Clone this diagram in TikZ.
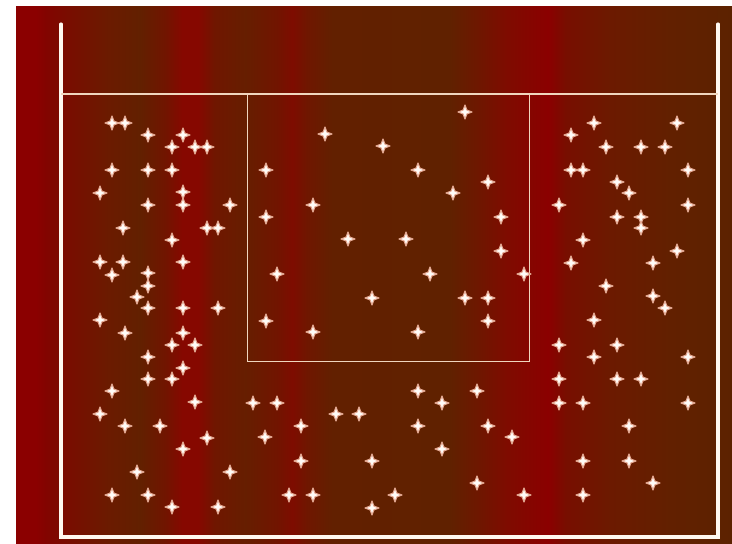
\documentclass[tikz,border=0pt]{standalone}
\definecolor{bA}{RGB}{139,0,0}
\definecolor{bB}{RGB}{130,4,0}
\definecolor{bC}{RGB}{120,14,0}
\definecolor{bD}{RGB}{108,26,0}
\definecolor{bE}{RGB}{98,32,0}
\definecolor{bF}{RGB}{114,20,0}
\definecolor{bG}{RGB}{134,8,0}
\definecolor{bH}{RGB}{112,22,0}
\definecolor{bI}{RGB}{102,30,0}
\definecolor{bJ}{RGB}{126,12,0}
\definecolor{bK}{RGB}{96,33,0}
\definecolor{bL}{RGB}{92,34,0}
\definecolor{framewhite}{RGB}{255,248,240}
\definecolor{linetan}{RGB}{240,214,190}
\definecolor{starfill}{RGB}{255,252,248}
\definecolor{starrim}{RGB}{228,168,146}
\tikzset{
  frameline/.style={draw=framewhite, line width=3.1pt, line cap=round, line join=miter},
  thinline/.style={draw=linetan, line width=1.3pt},
  sparkle/.pic={
    \filldraw[fill=starfill, draw=starrim, line width=1.1pt, line join=round]
      (-7,0) -- (-1.9,-1.9) -- (0,-7) -- (1.9,-1.9) -- (7,0) -- (1.9,1.9) -- (0,7) -- (-1.9,1.9) -- cycle;
  }
}
\begin{document}
\begin{tikzpicture}[x=1pt,y=-1pt]
\useasboundingbox (0,0) rectangle (732,544);
\fill[white] (0,0) rectangle (732,544);
% vertical colour bands of the background
\foreach \xa/\ca/\xb/\cb in {
  16/bA/36/bA, 36/bA/46/bB, 46/bB/70/bC, 70/bC/105/bD, 105/bD/140/bE,
  140/bE/166/bF, 166/bF/182/bG, 182/bG/198/bG, 198/bG/214/bH, 214/bH/245/bI,
  245/bI/278/bF, 278/bF/292/bJ, 292/bJ/306/bH, 306/bH/332/bE, 332/bE/450/bK,
  450/bK/485/bF, 485/bF/505/bJ, 505/bJ/548/bA, 548/bA/565/bC, 565/bC/610/bD,
  610/bD/670/bE, 670/bE/732/bL}
  \fill[left color=\ca, right color=\cb] (\xa,6) rectangle ({\xb+0.6},544);
% frame
\draw[frameline] (61,24) -- (61,537) -- (718,537) -- (718,24);
\draw[thinline] (61,94) -- (718,94);
\draw[thinline] (247.5,94) rectangle (529.5,361.5);
% sparkles
\foreach \a/\b in {
  112/123, 125/123, 148/135, 183/135, 172/147, 195/147, 207/147, 112/170, 148/170, 172/170,
  100/193, 183/192, 148/205, 183/205, 230/205, 123/228, 207/228, 218/228, 172/240, 100/262,
  123/262, 183/262, 112/275, 148/273, 148/286, 137/297, 148/308, 183/308, 218/308, 100/320,
  125/333, 183/333, 172/345, 195/345, 148/357, 183/368, 148/379, 172/379, 112/391, 195/402,
  100/414, 125/426, 160/426, 207/438, 183/449, 137/472, 230/472, 112/495, 148/495, 172/507,
  218/507,
  253/403, 277/403, 418/391, 477/391, 442/403, 336/414, 359/414, 301/426, 418/426, 488/426,
  265/437, 512/437, 442/449, 301/461, 372/461, 477/483, 289/495, 313/495, 395/495, 524/495,
  372/508,
  465/112, 325/134, 383/146, 266/170, 418/170, 488/182, 453/193, 313/205, 266/217, 501/217,
  348/239, 406/239, 501/251, 277/274, 430/274, 524/274, 372/298, 465/298, 488/298, 266/321,
  488/321, 313/332, 418/332,
  594/123, 677/123, 571/135, 606/147, 641/147, 665/147, 571/170, 583/170, 688/170, 617/182,
  629/193, 559/205, 688/205, 617/217, 641/217, 641/228, 583/240, 677/251, 571/263, 653/263,
  606/286, 653/296, 665/308, 594/320,
  559/345, 617/345, 594/357, 688/357, 559/379, 617/379, 641/379, 559/403, 583/403, 688/403,
  629/426, 583/461, 629/461, 653/483, 583/495}
  \pic at (\a,\b) {sparkle};
\end{tikzpicture}
\end{document}
